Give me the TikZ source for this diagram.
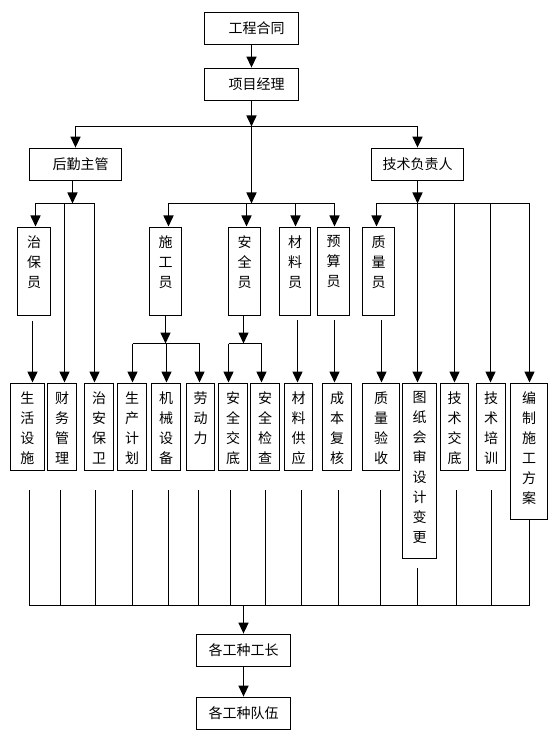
\documentclass[tikz,border=0pt]{standalone}
\usepackage{fontspec}
\newfontfamily\cjk{Noto Sans CJK SC}
\usetikzlibrary{arrows.meta,calc}
\newcommand{\vt}[2]{\parbox[c][#1pt][t]{16pt}{\centering #2}}
\begin{document}
\begin{tikzpicture}[x=1pt,y=-1pt,
  every node/.style={font=\cjk\fontsize{14pt}{20pt}\selectfont},
  hbox/.style={draw, line width=1.8pt, inner sep=0pt, minimum width=94pt, minimum height=32pt},
  vbox/.style={draw, line width=1.8pt, inner sep=0pt, anchor=north},
  arr/.style={line width=1.5pt, -{Triangle[length=11pt,width=10pt]}},
  ln/.style={line width=1.5pt},
  thin ln/.style={line width=1.2pt}]
\useasboundingbox (0,0) rectangle (555,743);

% top boxes
\node[hbox] (gc) at (251.5,28.5) {\hspace*{10pt}工程合同};
\node[hbox] (xm) at (251.5,84.5) {\hspace*{10pt}项目经理};
\node[hbox, minimum width=92pt] (hq) at (75.5,164.5) {\hspace*{10pt}后勤主管};
\node[hbox, minimum width=92pt] (js) at (417.5,164.5) {技术负责人};

% second row
\node[vbox, minimum width=33pt, minimum height=88pt] (zb) at (34,226.5) {\vt{72}{治\\保\\员}};
\node[vbox, minimum width=32pt, minimum height=88pt] (sg) at (165.5,226.5) {\vt{72}{施\\工\\员}};
\node[vbox, minimum width=32pt, minimum height=88pt] (aq) at (244.5,226.5) {\vt{72}{安\\全\\员}};
\node[vbox, minimum width=31pt, minimum height=88pt] (cl) at (295,226.5) {\vt{72}{材\\料\\员}};
\node[vbox, minimum width=32pt, minimum height=88pt] (ys) at (333.5,226.5) {\vt{72}{预\\算\\员}};
\node[vbox, minimum width=32pt, minimum height=88pt] (zl) at (378.5,226.5) {\vt{72}{质\\量\\员}};

% bottom row
\node[vbox, minimum width=34pt, minimum height=87pt] (b1) at (27.5,382.5) {\vt{71}{生\\活\\设\\施}};
\node[vbox, minimum width=29pt, minimum height=87pt] (b2) at (62,382.5) {\vt{71}{财\\务\\管\\理}};
\node[vbox, minimum width=29pt, minimum height=87pt] (b3) at (99,382.5) {\vt{71}{治\\安\\保\\卫}};
\node[vbox, minimum width=29pt, minimum height=87pt] (b4) at (132,382.5) {\vt{71}{生\\产\\计\\划}};
\node[vbox, minimum width=29pt, minimum height=87pt] (b5) at (166,382.5) {\vt{71}{机\\械\\设\\备}};
\node[vbox, minimum width=28pt, minimum height=87pt] (b6) at (200.5,382.5) {\vt{71}{劳\\动\\力}};
\node[vbox, minimum width=29pt, minimum height=87pt] (b7) at (233,382.5) {\vt{71}{安\\全\\交\\底}};
\node[vbox, minimum width=29pt, minimum height=87pt] (b8) at (265,382.5) {\vt{71}{安\\全\\检\\查}};
\node[vbox, minimum width=28pt, minimum height=87pt] (b9) at (298.5,382.5) {\vt{71}{材\\料\\供\\应}};
\node[vbox, minimum width=29pt, minimum height=87pt] (b10) at (337,382.5) {\vt{71}{成\\本\\复\\核}};
\node[vbox, minimum width=37pt, minimum height=87pt] (b11) at (381,382.5) {\vt{71}{质\\量\\验\\收}};
\node[vbox, minimum width=34pt, minimum height=175pt] (b12) at (419.5,382.5) {\vt{159}{图\\纸\\会\\审\\设\\计\\变\\更}};
\node[vbox, minimum width=28pt, minimum height=87pt] (b13) at (454.5,382.5) {\vt{71}{技\\术\\交\\底}};
\node[vbox, minimum width=29pt, minimum height=87pt] (b14) at (491,382.5) {\vt{71}{技\\术\\培\\训}};
\node[vbox, minimum width=37pt, minimum height=136pt] (b15) at (529,382.5) {\vt{120}{编\\制\\施\\工\\方\\案}};

% bottom boxes
\node[hbox] (gz) at (243.5,650.5) {各工种工长};
\node[hbox] (dw) at (243.5,713.5) {各工种队伍};

% top connectors
\draw[arr] (gc.south) -- (xm.north);
\coordinate (t1) at (251.5,126.5);
\draw[arr] (xm.south) -- (t1);
\draw[ln] (hq.north |- t1) -- (js.north |- t1);
\draw[arr] (hq.north |- t1) -- (hq.north);
\draw[arr] (js.north |- t1) -- (js.north);
\coordinate (m1) at (251.5,203.5);
\draw[arr] (t1) -- (m1);

% left group
\coordinate (l1) at (72.5,203.5);
\draw[arr] ([xshift=-3pt]hq.south) -- (l1);
\coordinate (la) at (35.5,203.5);
\coordinate (lb) at (64.5,203.5);
\coordinate (lc) at (94.5,203.5);
\draw[ln] (la) -- (lc);
\draw[arr] (la) -- (la |- zb.north);
\draw[arr] (lb) -- (lb |- b2.north);
\draw[arr] (lc) -- (lc |- b3.north);
\coordinate (zbs) at ([xshift=-1.5pt,yshift=-5pt]zb.south);
\draw[arr] (zbs) -- (zbs |- b1.north);

% middle group
\coordinate (ma) at (168.5,203.5);
\coordinate (mb) at (246.5,203.5);
\coordinate (mc) at (295.5,203.5);
\coordinate (md) at (334.5,203.5);
\draw[ln] (ma) -- (md);
\draw[arr] (ma) -- (ma |- sg.north);
\draw[arr] (mb) -- (mb |- aq.north);
\draw[arr] (mc) -- (mc |- cl.north);
\draw[arr] (md) -- (md |- ys.north);

% 施工员 sub-group
\coordinate (sj) at (165.5,343.5);
\draw[arr] (sg.south) -- (sj);
\coordinate (sa) at (132.5,343.5);
\coordinate (sb) at (166.5,343.5);
\coordinate (sc) at (199.5,343.5);
\draw[ln] (sa) -- (sc);
\draw[arr] (sa) -- (sa |- b4.north);
\draw[arr] (sb) -- (sb |- b5.north);
\draw[arr] (sc) -- (sc |- b6.north);

% 安全员 sub-group
\coordinate (aj) at (243.5,343.5);
\draw[arr] ([xshift=-1pt]aq.south) -- (aj);
\coordinate (qa) at (228.5,343.5);
\coordinate (qb) at (261.5,343.5);
\draw[ln] (qa) -- (qb);
\draw[arr] (qa) -- (qa |- b7.north);
\draw[arr] (qb) -- (qb |- b8.north);

% single drops
\coordinate (cls) at ([xshift=2.5pt,yshift=-3.5pt]cl.south);
\draw[arr] (cls) -- (cls |- b9.north);
\coordinate (yss) at ([xshift=1pt,yshift=-3.5pt]ys.south);
\draw[arr] (yss) -- (yss |- b10.north);
\coordinate (zls) at ([xshift=3pt,yshift=-3.5pt]zl.south);
\draw[arr] (zls) -- (zls |- b11.north);

% right group
\coordinate (r1) at (417.5,203.5);
\draw[arr] (js.south) -- (r1);
\coordinate (ra) at (376.5,203.5);
\coordinate (rb) at (417.5,203.5);
\coordinate (rc) at (454.5,203.5);
\coordinate (rd) at (490.5,203.5);
\coordinate (re) at (529.5,203.5);
\draw[ln] (ra) -- (re);
\draw[arr] (ra) -- (ra |- zl.north);
\draw[arr] (rb) -- (rb |- b12.north);
\draw[arr] (rc) -- (rc |- b13.north);
\draw[arr] (rd) -- (rd |- b14.north);
\draw[arr] (re) -- (re |- b15.north);

% bottom bus
\coordinate (bus) at (243.5,605.5);
\coordinate (busL) at (29.5,605.5);
\coordinate (busR) at (529.5,605.5);
\foreach \n/\dx in {b1/2, b2/-1.5, b3/-3.5, b4/0.5, b5/2.5, b6/-2, b7/-2.5, b8/0.5, b9/3, b10/1.5, b11/-0.5, b13/2, b14/0.5}{
  \path ([xshift=\dx pt]\n.south) coordinate (tmp);
  \draw[thin ln] ([yshift=-19pt]tmp) -- (tmp |- bus);
}
\path ([xshift=-2pt]b12.south) coordinate (t12);
\draw[thin ln] ([yshift=-9pt]t12) -- (t12 |- bus);
\path ([xshift=0.5pt]b15.south) coordinate (t15);
\draw[ln] (t15) -- (t15 |- bus);
\draw[ln] (busL) -- (busR);
\draw[arr] (gz.north |- bus) -- (gz.north);
\draw[arr] (gz.south) -- (dw.north);
\end{tikzpicture}
\end{document}
